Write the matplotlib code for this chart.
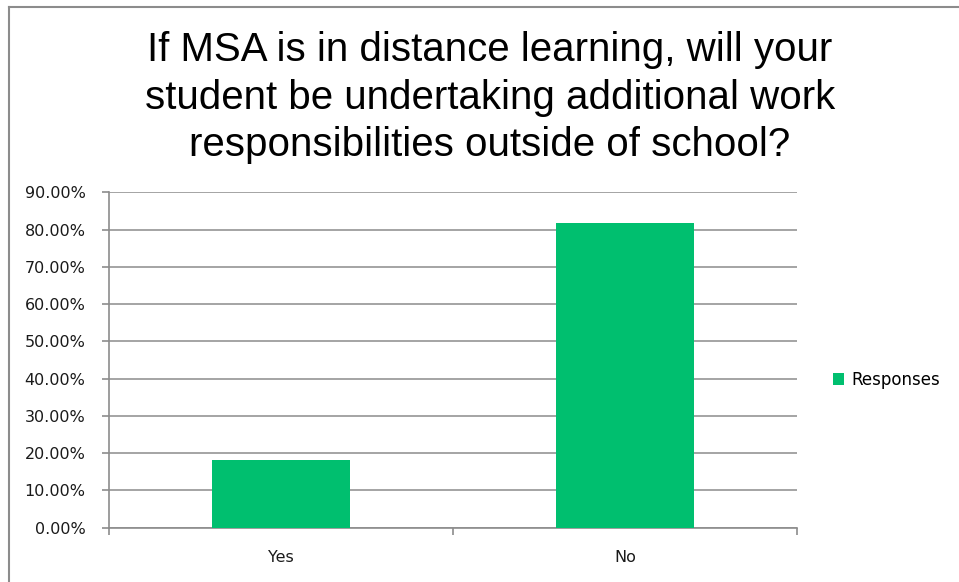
import matplotlib.pyplot as plt
from matplotlib.lines import Line2D
from matplotlib.ticker import FuncFormatter

# survey answers
categories = ["Yes", "No"]
responses = [0.1818, 0.8182]
yticks = [0.0, 0.1, 0.2, 0.3, 0.4, 0.5, 0.6, 0.7, 0.8, 0.9]
title = "If MSA is in distance learning, will your\nstudent be undertaking additional work\nresponsibilities outside of school?"

plt.rcParams["font.family"] = "DejaVu Sans"

W, H = 959, 582
fig = plt.figure(figsize=(W / 100, H / 100), dpi=100)
fig.patch.set_facecolor("white")

# chart frame (left and top edges visible)
fig.add_artist(Line2D([8.5 / W, 8.5 / W], [0, 1 - 7 / H], color="#8c8c8c", lw=1.5))
fig.add_artist(Line2D([8.5 / W, 1], [1 - 7 / H, 1 - 7 / H], color="#8c8c8c", lw=1.5))

ax = fig.add_axes([109 / W, 1 - 527.5 / H, (797 - 109) / W, (527.5 - 192.3) / H])
x = range(len(categories))
ax.bar(x, responses, width=0.4, color="#00bf6f", label="Responses", zorder=3)

ax.set_xlim(-0.5, 1.5)
ax.set_ylim(0, 0.9)
ax.set_yticks(yticks)
ax.yaxis.set_major_formatter(FuncFormatter(lambda v, p: "%.2f%%" % (v * 100)))
ax.grid(axis="y", color="#8c8c8c", lw=1.1, zorder=0)

for s in ["top", "right"]:
    ax.spines[s].set_visible(False)
for s in ["left", "bottom"]:
    ax.spines[s].set_color("#8c8c8c")
    ax.spines[s].set_linewidth(1.2)

ax.set_xticks([-0.5, 0.5, 1.5], minor=False)
ax.set_xticklabels([])
ax.set_xticks(list(x), minor=True)
ax.set_xticklabels(categories, minor=True)
ax.tick_params(axis="x", which="minor", length=0, pad=16, labelsize=11.5, labelcolor="#1a1a1a")
ax.tick_params(axis="x", which="major", length=5, color="#8c8c8c", width=1.2)
ax.tick_params(axis="y", length=5, color="#8c8c8c", width=1.2, pad=12, labelsize=11.5, labelcolor="#1a1a1a")

fig.text(490 / W, 1 - 31 / H, title, ha="center", va="top", fontsize=29,
         family="Liberation Sans", linespacing=1.32, color="black")

leg = ax.legend(loc="center left", bbox_to_anchor=(1.03, 0.44), frameon=False,
                handlelength=0.7, handleheight=0.7, handletextpad=0.4,
                prop={"family": "DejaVu Sans", "size": 12})

fig.savefig("out.png", dpi=100)
